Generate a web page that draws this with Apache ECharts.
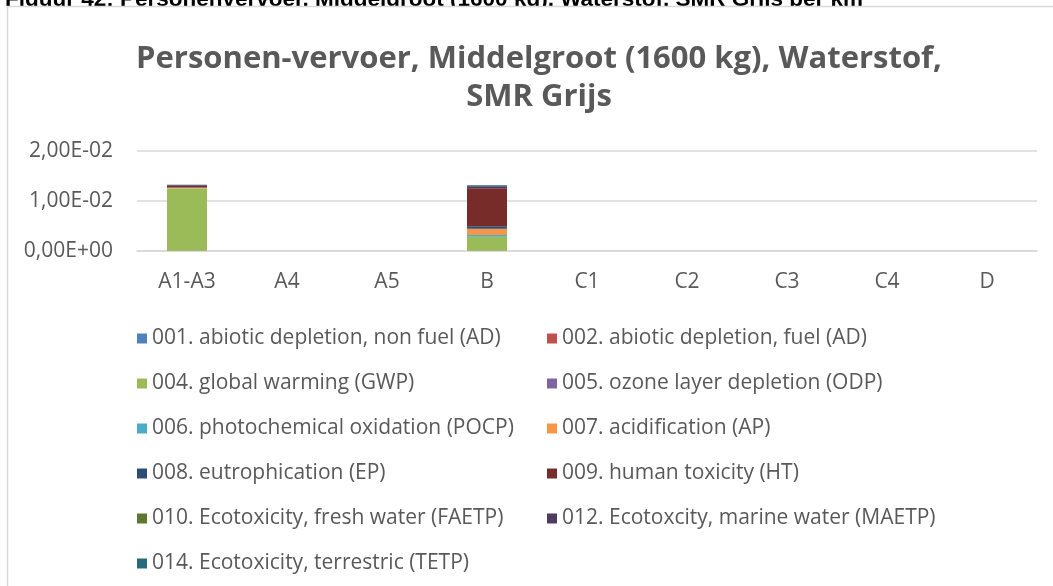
<!DOCTYPE html>
<html>
<head>
<meta charset="utf-8">
<script src="https://cdn.jsdelivr.net/npm/echarts@6/dist/echarts.min.js"></script>
<style>
  html, body { margin: 0; padding: 0; background: #fff; }
  #chart { width: 1053px; height: 586px; }
</style>
</head>
<body>
<div id="chart"></div>
<script>
// Life-cycle stages on the category axis
const categories = ['A1-A3', 'A4', 'A5', 'B', 'C1', 'C2', 'C3', 'C4', 'D'];

// Impact categories (stacked series), values per stage
const seriesNames = [
  '001. abiotic depletion, non fuel (AD)',
  '002. abiotic depletion, fuel (AD)',
  '004. global warming (GWP)',
  '005. ozone layer depletion (ODP)',
  '006. photochemical oxidation (POCP)',
  '007. acidification (AP)',
  '008. eutrophication (EP)',
  '009. human toxicity (HT)',
  '010. Ecotoxicity, fresh water (FAETP)',
  '012. Ecotoxcity, marine water (MAETP)',
  '014. Ecotoxicity, terrestric (TETP)'
];
const ad_nonfuel = [0.00002, 0, 0, 0.00002, 0, 0, 0, 0, 0];
const ad_fuel    = [0.00002, 0, 0, 0.00002, 0, 0, 0, 0, 0];
const gwp        = [0.0125,  0, 0, 0.0028,  0, 0, 0, 0, 0];
const odp        = [0,       0, 0, 0,       0, 0, 0, 0, 0];
const pocp       = [0.00003, 0, 0, 0.00035, 0, 0, 0, 0, 0];
const ap         = [0.0001,  0, 0, 0.00125, 0, 0, 0, 0, 0];
const ep         = [0.00005, 0, 0, 0.0005,  0, 0, 0, 0, 0];
const ht         = [0.0003,  0, 0, 0.0076,  0, 0, 0, 0, 0];
const faetp      = [0.00001, 0, 0, 0.00002, 0, 0, 0, 0, 0];
const maetp      = [0.0002,  0, 0, 0.0004,  0, 0, 0, 0, 0];
const tetp       = [0.00002, 0, 0, 0.0002,  0, 0, 0, 0, 0];
const seriesValues = [ad_nonfuel, ad_fuel, gwp, odp, pocp, ap, ep, ht, faetp, maetp, tetp];

const colors = ['#4F81BD', '#C0504D', '#9BBB59', '#8064A2', '#4BACC6', '#F79646',
                '#2C4D75', '#772C2A', '#5F7530', '#4D3B62', '#276A7C'];

const titleLines = ['Personen-vervoer, Middelgroot (1600 kg), Waterstof,', 'SMR Grijs'];
const captionText = 'Figuur 42: Personenvervoer, Middelgroot (1600 kg), Waterstof, SMR Grijs per km';

// Y tick labels: 2,00E-02 style
function sci(v) {
  const [m, e] = v.toExponential(2).split('e');
  const exp = parseInt(e, 10);
  const sign = exp < 0 ? '-' : '+';
  return m.replace('.', ',') + 'E' + sign + String(Math.abs(exp)).padStart(2, '0');
}

const textColor = '#595959';
const uiFont = '"Open Sans", "Noto Sans", sans-serif';

const chart = echarts.init(document.getElementById('chart'), null, { renderer: 'canvas' });

const leftNames = seriesNames.filter((_, i) => i % 2 === 0);
const rightNames = seriesNames.filter((_, i) => i % 2 === 1);
const legendCommon = {
  orient: 'vertical',
  top: 323,
  itemWidth: 10,
  itemHeight: 10,
  itemGap: 24,
  icon: 'rect',
  textStyle: { color: textColor, fontSize: 21, fontFamily: uiFont, height: 21, lineHeight: 21 }
};

function titleLine(text, y) {
  return {
    type: 'text',
    x: 539,
    y: y,
    style: {
      text: text,
      fill: textColor,
      font: 'bold 31px "Open Sans", sans-serif',
      align: 'center',
      verticalAlign: 'top'
    },
    silent: true,
    z: 3
  };
}

chart.setOption({
  animation: false,
  color: colors,
  graphic: [
    {
      // document caption above the chart frame (only its lower edge shows)
      type: 'text',
      x: 5,
      y: 11,
      style: {
        text: captionText,
        fill: '#000',
        font: 'bold 22.5px "Liberation Sans", Arial, sans-serif',
        align: 'left',
        verticalAlign: 'bottom'
      },
      silent: true,
      z: 1
    },
    {
      // white band hiding the caption's descenders inside the frame
      type: 'rect',
      shape: { x: 7, y: 6, width: 1100, height: 14 },
      style: { fill: '#fff' },
      silent: true,
      z: 2
    },
    {
      // chart frame
      type: 'rect',
      shape: { x: 7.5, y: 6.5, width: 1100, height: 700 },
      style: { fill: 'none', stroke: '#D9D9D9', lineWidth: 1.5 },
      silent: true,
      z: 3
    },
    titleLine(titleLines[0], 44),
    titleLine(titleLines[1], 82)
  ],
  legend: [
    Object.assign({ left: 132, data: leftNames }, legendCommon),
    Object.assign({ left: 542, data: rightNames }, legendCommon)
  ],
  grid: { left: 137, right: 16, top: 151, bottom: 335, containLabel: false },
  xAxis: {
    type: 'category',
    data: categories,
    axisLine: { show: true, lineStyle: { color: '#D9D9D9', width: 1.5 } },
    axisTick: { show: false },
    axisLabel: { color: textColor, fontSize: 21, fontFamily: uiFont, margin: 21 }
  },
  yAxis: {
    type: 'value',
    min: 0,
    max: 0.02,
    interval: 0.01,
    axisLine: { show: false },
    axisTick: { show: false },
    splitLine: { lineStyle: { color: '#D9D9D9', width: 1.5 } },
    axisLabel: { color: textColor, fontSize: 21, fontFamily: uiFont, margin: 24, formatter: sci }
  },
  series: seriesNames.map((name, i) => ({
    name,
    type: 'bar',
    stack: 'total',
    barWidth: '40%',
    data: seriesValues[i]
  }))
});
</script>
</body>
</html>
